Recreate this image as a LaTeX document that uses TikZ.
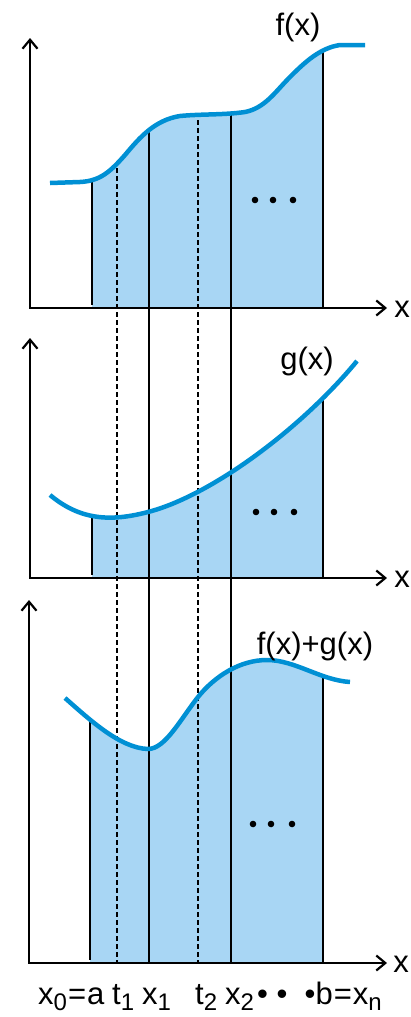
\documentclass[tikz,border=0pt]{standalone}
\usepackage{fontspec}
\setmainfont{Liberation Sans}
\usetikzlibrary{arrows.meta}

\definecolor{curveblue}{RGB}{0,144,212}
\definecolor{areablue}{RGB}{168,214,244}
\newcommand\sub[1]{\raisebox{-0.2em}{\fontsize{24}{24}\selectfont #1}}

% the three graphs
\def\fcurve{(50,183) -- (80,182) .. controls (100,181) and (110,172) .. (125,155) .. controls (140,137) and (155,120) .. (180,116) .. controls (200,114) and (225,115) .. (245,112) .. controls (265,108) and (275,92) .. (290,77) .. controls (305,62) and (320,48) .. (340,45) -- (365,45)}
\def\gcurve{(50,495) .. controls (80,520) and (110,522) .. (148,512) .. controls (210,496) and (300,430) .. (357,361)}
\def\hcurve{(65,698) .. controls (90,720) and (120,748) .. (148,749) .. controls (165,749) and (180,720) .. (198,697) .. controls (215,676) and (240,660) .. (267,660) .. controls (295,660) and (320,680) .. (350,682)}

\begin{document}
\begin{tikzpicture}[
    x=1pt, y=-1pt,
    axisline/.style={line width=2.2pt, line join=miter,
      {Straight Barb[length=9pt, width=15pt]}-{Straight Barb[length=9pt, width=15pt]}},
    fnline/.style={draw=curveblue, line width=4.5pt},
    area/.style={fill=areablue},
    strip/.style={line width=1.8pt},
    midline/.style={line width=2.9pt, dash pattern=on 5pt off 3pt},
    lbl/.style={font=\fontsize{31}{36}\selectfont, inner sep=0pt}
]
\useasboundingbox (0,0) rectangle (411,1017);

% shaded areas
\begin{scope}
  \clip (92,0) rectangle (323,308);
  \fill[area] \fcurve -- (365,308) -- (50,308) -- cycle;
\end{scope}
\begin{scope}
  \clip (92,340) rectangle (323,578);
  \fill[area] \gcurve -- (357,578) -- (50,578) -- cycle;
\end{scope}
\begin{scope}
  \clip (90,600) rectangle (323,963);
  \fill[area] \hcurve -- (350,963) -- (65,963) -- cycle;
\end{scope}

% end lines of each strip
\begin{scope}
  \clip \fcurve -- (365,308) -- (50,308) -- cycle;
  \draw[strip] (92,0) -- (92,305) (323,0) -- (323,308);
\end{scope}
\begin{scope}
  \clip \gcurve -- (357,578) -- (50,578) -- cycle;
  \draw[strip] (92,340) -- (92,575) (323,340) -- (323,578);
\end{scope}
\begin{scope}
  \clip \hcurve -- (350,963) -- (65,963) -- cycle;
  \draw[strip] (90,600) -- (90,960) (323,600) -- (323,963);
\end{scope}

% partition lines through all three panels
\begin{scope}
  \clip \fcurve -- (365,308) -- (50,308) -- cycle (0,308) rectangle (411,963);
  \draw[strip] (149,0) -- (149,963) (231,0) -- (231,963);
  \draw[midline] (117,0) -- (117,963) (198,0) -- (198,963);
\end{scope}

% curves
\draw[fnline] \fcurve;
\draw[fnline] \gcurve;
\draw[fnline] \hcurve;

% axes
\draw[axisline] (30,38) -- (30,308) -- (387,308);
\draw[axisline] (30,338) -- (30,578) -- (387,578);
\draw[axisline] (29,600) -- (29,963) -- (387,963);

% dots
\foreach \d in {255,273,293} \fill (\d,200) circle (3.3pt);
\foreach \d in {256,274,294} \fill (\d,512) circle (3.3pt);
\foreach \d in {253,271,292} \fill (\d,824) circle (3.3pt);

% labels
\node[lbl] (fx) at (298,27) {f(x)};
\node[lbl] (gx) at (307,361) {g(x)};
\node[lbl] (hx) at (315,646) {f(x)+g(x)};
\node[lbl] (xa) at (402,309) {x};
\node[lbl] (xb) at (402,579) {x};
\node[lbl] (xc) at (401,964) {x};

\node[lbl, anchor=base west] (pa) at (38,1004) {x\sub{0}\hspace{1pt}=\hspace{1pt}a};
\node[lbl, anchor=base west] (pt1) at (112,1004) {t\sub{1}};
\node[lbl, anchor=base west] (px1) at (142,1004) {x\sub{1}};
\node[lbl, anchor=base west] (pt2) at (195,1004) {t\sub{2}};
\node[lbl, anchor=base west] (px2) at (225,1004) {x\sub{2}};
\node[lbl, anchor=base west] (pb) at (257,1004) {\textbullet\ \textbullet\ \ \textbullet b\hspace{1pt}=\hspace{1pt}x\sub{n}};
\end{tikzpicture}
\end{document}
